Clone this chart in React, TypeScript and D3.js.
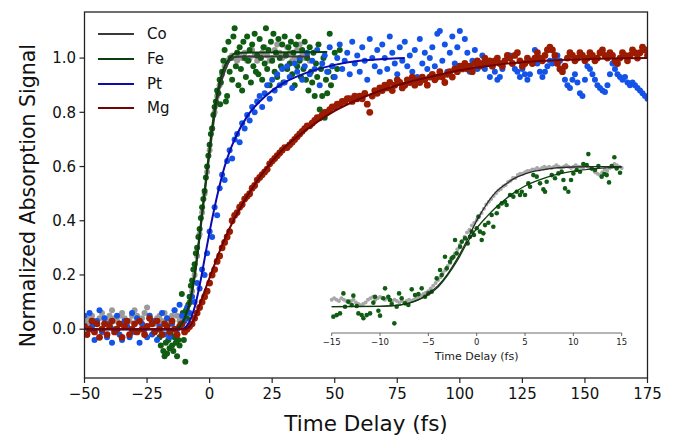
import React from "react";
import * as d3 from "d3";

// ---------------- Data ----------------
const SERIES_NAMES = ["Co", "Fe", "Pt", "Mg"];
const X_TICKS = [-50, -25, 0, 25, 50, 75, 100, 125, 150, 175];
const Y_TICKS = [0, 0.2, 0.4, 0.6, 0.8, 1.0];
const INSET_TICKS = [-15, -10, -5, 0, 5, 10, 15];

// Co (main) sampled every 1 fs starting at -50
const CO_T0 = -50;
const CO_VALUES = [
  0.03, 0.02, 0.04, 0.05, 0.03, 0.02, 0.04, 0.06, 0.04, 0.03,
  0.05, 0.07, 0.04, 0.03, 0.05, 0.06, 0.04, 0.02, 0.03, 0.05,
  0.07, 0.05, 0.03, 0.04, 0.06, 0.08, 0.05, 0.03, 0.02, 0.04,
  0.05, 0.03, 0.06, 0.04, 0.02, 0.05, 0.07, 0.05, 0.03, 0.04,
  0.05, 0.07, 0.1, 0.14, 0.2, 0.27, 0.35, 0.43, 0.5, 0.58,
  0.66, 0.74, 0.8, 0.86, 0.9, 0.94, 0.97, 0.99, 1.0, 1.01,
  1.0, 0.99, 1.01, 1.0, 1.02, 0.99, 1.0, 1.03, 1.01, 0.99,
  1.0, 1.02, 1.04, 1.01, 0.99, 1.0, 1.03, 1.05, 1.02, 1.0,
  1.01, 1.04, 1.02, 0.99, 1.0, 1.03, 1.05, 1.02, 1.0, 1.01,
  0.99,
];
const CO_FIT = [
  [-50, 0], [-15, 0], [-12, 0.01], [-10, 0.04], [-8, 0.09], [-6, 0.19], [-4, 0.34],
  [-2, 0.5], [0, 0.65], [2, 0.79], [4, 0.89], [6, 0.95], [8, 0.99], [10, 1.004], [14, 1.006], [40, 1.006],
];

// Fe (main) scatter [t, value]
const FE_POINTS = [
  [-20, -0.03], [-19.5, -0.06], [-19, -0.02], [-18.5, -0.08], [-18, -0.1], [-17.5, -0.05],
  [-17, -0.09], [-16.5, -0.04], [-16, -0.07], [-15.5, -0.02], [-15, -0.06], [-14.5, -0.08],
  [-14, -0.03], [-13.5, -0.05], [-13, -0.1], [-12.5, -0.04], [-12, -0.06], [-11.5, 0.02],
  [-11.1, 0.13], [-10.7, 0.06], [-10.3, -0.04], [-9.7, -0.12], [-9.4, 0.07], [-9, 0.04],
  [-8.5, 0.09], [-8, 0.12], [-7.7, 0.1], [-7.5, 0.16], [-7, 0.18], [-6.5, 0.22], [-6, 0.24],
  [-5.5, 0.28], [-5, 0.3], [-4.5, 0.34], [-4, 0.37], [-3.5, 0.41], [-3, 0.45], [-2.5, 0.48],
  [-2, 0.51], [-1.5, 0.56], [-1, 0.6], [-0.5, 0.64], [0, 0.68], [0.5, 0.72], [1, 0.74],
  [1.5, 0.79], [2, 0.82], [2.5, 0.84], [3, 0.88], [3.5, 0.87], [4, 0.92], [4.2, 0.83],
  [4.5, 0.91], [5, 0.95], [5.5, 0.99], [6, 1.03], [6.5, 0.84], [7, 0.86], [7.5, 1.06],
  [8, 0.95], [8.5, 1.0], [9, 0.92], [9.5, 1.08], [10, 1.11], [10.5, 0.97], [11, 1.02],
  [11.5, 0.9], [12, 1.04], [12.5, 0.96], [13, 0.88], [13.5, 1.06], [14, 1.0], [14.5, 0.93],
  [15, 1.08], [15.5, 0.99], [16, 1.03], [16.5, 0.91], [17, 1.05], [17.5, 0.97], [18, 1.09],
  [18.5, 0.95], [19, 1.01], [19.5, 0.94], [20, 1.07], [20.5, 1.0], [21, 0.92], [21.5, 1.04],
  [22, 0.98], [22.5, 1.11], [23, 0.96], [23.5, 1.03], [24, 0.9], [24.5, 1.06], [25, 0.99],
  [25.5, 1.09], [26, 0.95], [26.5, 1.02], [27, 0.93], [27.5, 1.07], [28, 1.0], [28.5, 0.97],
  [29, 1.05], [29.5, 0.91], [30, 1.08], [30.5, 1.01], [31, 0.96], [31.5, 1.04], [32, 0.98],
  [32.5, 1.06], [33, 0.94], [33.5, 1.02], [34, 0.9], [34.5, 1.05], [35, 0.97], [35.5, 1.08],
  [36, 0.99], [36.5, 0.93], [37, 1.03], [37.5, 0.96], [38, 1.06], [38.5, 0.92], [39, 1.0],
  [39.5, 0.88], [40, 1.04], [40.5, 0.95], [41, 0.91], [41.5, 1.02], [42, 0.86], [42.5, 0.98],
  [43, 0.93], [43.5, 1.05], [44, 0.81], [44.5, 0.96], [45, 0.86], [45.5, 1.0], [46, 0.78],
  [46.5, 0.92], [47, 0.87], [47.5, 0.95], [48, 1.09], [48.5, 0.9], [49, 0.97], [49.5, 0.93],
  [50, 1.02], [51, 0.96], [52, 1.03],
];
const FE_FIT = [
  [-20, 0], [-14, 0], [-12, 0.01], [-10, 0.04], [-8, 0.1], [-6, 0.2], [-4, 0.35],
  [-2, 0.51], [0, 0.67], [2, 0.81], [4, 0.91], [6, 0.97], [8, 1.0], [11, 1.02], [47, 1.022],
];

// Pt (main) sampled every 1 fs starting at -50
const PT_T0 = -50;
const PT_VALUES = [
  0.05, -0.02, 0.06, 0.01, -0.04, 0.03, 0.07, -0.01, 0.04, -0.03,
  0.02, -0.05, 0.0, 0.05, -0.02, -0.04, 0.03, 0.01, -0.03, 0.06,
  -0.01, 0.04, -0.05, 0.02, 0.0, -0.03, 0.05, -0.02, 0.03, -0.04,
  0.01, 0.06, -0.02, 0.04, -0.03, 0.02, 0.07, 0.0, 0.09, 0.05,
  0.03, 0.08, 0.06, 0.12, 0.1, 0.17, 0.15, 0.22, 0.2, 0.28,
  0.36, 0.34, 0.45, 0.42, 0.52, 0.57, 0.55, 0.62, 0.66, 0.63,
  0.7, 0.72, 0.69, 0.76, 0.74, 0.79, 0.77, 0.82, 0.8, 0.84,
  0.86, 0.82, 0.87, 0.9, 0.85, 0.92, 0.88, 0.94, 0.9, 0.96,
  0.91, 0.97, 0.93, 0.89, 0.98, 0.95, 1.0, 0.92, 0.97, 1.02,
  0.94, 0.99, 0.96, 1.03, 0.9, 0.98, 1.01, 0.95, 1.04, 0.97,
  0.93, 1.0, 1.05, 0.96, 0.99, 1.02, 0.94, 1.06, 0.98, 1.01,
  0.95, 1.04, 0.99, 0.92, 1.07, 1.0, 0.97, 1.03, 0.95, 1.05,
  1.0, 0.96, 1.08, 1.02, 0.98, 0.94, 1.04, 0.99, 1.06, 0.97,
  1.01, 0.95, 1.03, 0.93, 1.07, 0.98, 1.02, 0.96, 1.0, 1.04,
  0.97, 1.09, 1.1, 0.99, 1.05, 0.95, 1.02, 1.08, 0.98, 1.04,
  1.1, 0.97, 1.07, 1.02, 0.95, 0.99, 1.03, 0.96, 0.98, 1.01,
  0.96, 0.99, 0.93, 0.97, 0.95, 0.92, 0.93, 0.96, 0.99, 1.0,
  1.01, 0.98, 0.96, 0.95, 0.93, 0.96, 0.94, 0.92, 0.94, 0.99,
  1.03, 0.98, 0.95, 0.93, 0.95, 0.97, 0.99, 0.98, 1.0, 1.01,
  0.99, 0.96, 0.92, 0.9, 0.89, 0.92, 0.94, 0.91, 0.87, 0.86,
  0.92, 0.97, 0.96, 0.94, 0.92, 0.9, 0.89, 0.88, 0.875, 0.9,
  0.94, 0.98, 0.96, 0.94, 0.93, 0.92, 0.93, 0.91, 0.9, 0.91,
  0.9, 0.89, 0.88, 0.87, 0.86, 0.85,
];
const PT_FIT = [
  [-50, 0], [-12, 0], [-10, 0.005], [-8, 0.03], [-6, 0.08], [-4, 0.16], [-2, 0.26],
  [0, 0.36], [2, 0.45], [4, 0.53], [6, 0.6], [8, 0.655], [10, 0.7], [15, 0.785],
  [20, 0.84], [25, 0.88], [30, 0.91], [40, 0.95], [50, 0.975], [60, 0.99], [70, 0.997], [78, 1.0],
];

// Mg (main) sampled every 1 fs starting at -50
const MG_T0 = -50;
const MG_VALUES = [
  0.01, -0.02, 0.0, 0.03, -0.01, 0.02, -0.03, 0.0, 0.02, -0.02,
  0.01, 0.03, -0.01, 0.0, 0.02, -0.03, 0.01, 0.03, -0.02, 0.0,
  0.02, -0.01, 0.03, 0.0, -0.02, 0.01, 0.04, 0.02, -0.01, 0.03,
  0.0, -0.02, 0.02, 0.01, -0.01, 0.03, 0.0, -0.02, 0.01, 0.02,
  -0.01, 0.0, 0.01, 0.02, 0.04, 0.06, 0.08, 0.1, 0.12, 0.14,
  0.17, 0.2, 0.22, 0.25, 0.27, 0.3, 0.32, 0.34, 0.36, 0.4,
  0.42, 0.43, 0.45, 0.46, 0.48, 0.49, 0.5, 0.52, 0.53, 0.55,
  0.56, 0.57, 0.58, 0.59, 0.61, 0.62, 0.63, 0.64, 0.65, 0.66,
  0.67, 0.67, 0.68, 0.69, 0.7, 0.71, 0.72, 0.73, 0.74, 0.75,
  0.75, 0.76, 0.77, 0.78, 0.78, 0.79, 0.8, 0.8, 0.81, 0.82,
  0.82, 0.83, 0.83, 0.84, 0.84, 0.85, 0.85, 0.84, 0.86, 0.85,
  0.86, 0.85, 0.87, 0.83, 0.8, 0.86, 0.88, 0.87, 0.89, 0.88,
  0.9, 0.89, 0.91, 0.88, 0.9, 0.92, 0.91, 0.89, 0.9, 0.92,
  0.91, 0.93, 0.9, 0.92, 0.91, 0.93, 0.92, 0.9, 0.93, 0.94,
  0.92, 0.93, 0.95, 0.93, 0.91, 0.94, 0.95, 0.93, 0.96, 0.95,
  0.97, 0.96, 0.98, 0.96, 0.97, 0.95, 0.98, 0.99, 0.97, 0.98,
  1.0, 0.98, 0.99, 0.97, 0.99, 1.0, 0.98, 0.97, 0.99, 1.01,
  1.0, 0.98, 1.01, 1.02, 0.99, 0.97, 0.98, 1.0, 0.99, 0.98,
  1.0, 1.02, 1.0, 0.99, 1.01, 1.03, 1.04, 1.03, 1.01, 0.98,
  0.96, 0.95, 0.97, 1.0, 1.02, 1.01, 0.99, 1.0, 1.02, 1.01,
  0.99, 1.0, 1.02, 1.01, 0.99, 1.0, 1.02, 1.03, 1.01, 1.0,
  1.02, 1.01, 0.99, 0.98, 1.0, 1.02, 1.01, 0.99, 1.01, 1.03,
  1.02, 1.0, 1.02, 1.04, 1.03, 1.01,
];
const MG_FIT = [
  [-50, 0], [-10, 0], [-8, 0.01], [-6, 0.04], [-4, 0.09], [-2, 0.14], [0, 0.19],
  [5, 0.31], [10, 0.41], [15, 0.49], [20, 0.56], [25, 0.62], [30, 0.67], [40, 0.745],
  [50, 0.805], [60, 0.85], [75, 0.9], [90, 0.935], [100, 0.955], [112, 0.972],
  [125, 0.985], [150, 0.996], [175, 1.0],
];

// Inset: Co sampled every 0.25 fs starting at -15
const INSET_CO_T0 = -15;
const INSET_CO_STEP = 0.25;
const INSET_CO_VALUES = [
  0.05, 0.06, 0.05, 0.04, 0.06, 0.05, 0.04, 0.03, 0.04, 0.05, 0.03, 0.02,
  0.01, 0.02, 0.03, 0.05, 0.06, 0.07, 0.05, 0.06, 0.07, 0.06, 0.05, 0.06,
  0.05, 0.04, 0.05, 0.04, 0.03, 0.04, 0.03, 0.04, 0.05, 0.04, 0.05, 0.06,
  0.07, 0.08, 0.09, 0.1, 0.11, 0.13, 0.15, 0.17, 0.19, 0.21, 0.24, 0.26,
  0.29, 0.31, 0.35, 0.38, 0.41, 0.44, 0.47, 0.5, 0.53, 0.55, 0.58, 0.6,
  0.62, 0.65, 0.67, 0.7, 0.73, 0.75, 0.77, 0.79, 0.81, 0.83, 0.84, 0.86,
  0.87, 0.89, 0.9, 0.92, 0.92, 0.94, 0.95, 0.95, 0.96, 0.97, 0.97, 0.98,
  0.98, 0.99, 0.98, 0.99, 1.0, 0.99, 1.0, 0.99, 1.0, 1.01, 1.0, 0.99,
  1.0, 1.01, 1.0, 0.99, 1.0, 1.01, 1.0, 1.0, 0.99, 1.01, 1.0, 0.99,
  0.98, 0.96, 0.95, 0.94, 0.96, 0.98, 0.97, 0.99, 1.0, 1.02, 1.01, 1.0,
  0.99,
];
const INSET_CO_FIT = [
  [-15, 0], [-10, 0.003], [-8, 0.012], [-7, 0.025], [-6, 0.05], [-5, 0.095], [-4, 0.15],
  [-3, 0.235], [-2, 0.345], [-1, 0.475], [0, 0.615], [1, 0.73], [2, 0.82], [3, 0.875],
  [4, 0.92], [5, 0.948], [6, 0.968], [7, 0.98], [8, 0.99], [10, 0.998], [12, 1.0], [15, 1.0],
];
const INSET_FE_POINTS = [
  [-14.83, -0.071], [-14.48, -0.06], [-14.14, -0.048], [-13.79, 0.095], [-13.62, 0.0],
  [-13.28, 0.036], [-12.93, 0.012], [-12.76, 0.079], [-12.41, 0.005], [-12.24, -0.048],
  [-11.9, -0.06], [-11.72, -0.083], [-11.38, -0.06], [-11.03, -0.048], [-10.69, 0.029],
  [-10.52, 0.071], [-10.17, -0.029], [-10.0, -0.064], [-9.66, 0.06], [-9.48, 0.131],
  [-9.14, 0.071], [-8.97, 0.048], [-8.79, 0.019], [-8.52, -0.119], [-8.28, 0.0],
  [-8.03, 0.095], [-7.76, 0.06], [-7.41, 0.024], [-7.07, 0.012], [-6.72, 0.124],
  [-6.38, 0.083], [-6.03, 0.09], [-5.69, 0.131], [-5.34, 0.071], [-5.0, 0.095],
  [-4.66, 0.107], [-4.14, 0.202], [-3.79, 0.262], [-3.62, 0.226], [-3.28, 0.357],
  [-3.1, 0.274], [-2.76, 0.321], [-2.59, 0.345], [-2.41, 0.357], [-2.24, 0.476],
  [-2.07, 0.381], [-1.72, 0.429], [-1.55, 0.464], [-1.21, 0.488], [-0.93, 0.452],
  [-0.69, 0.5], [-0.52, 0.536], [-0.28, 0.512], [0.0, 0.56], [0.17, 0.643],
  [0.34, 0.536], [0.52, 0.476], [0.69, 0.524], [0.86, 0.583], [1.21, 0.6],
  [1.55, 0.655], [1.72, 0.571], [2.07, 0.667], [2.24, 0.714], [2.59, 0.738],
  [2.93, 0.75], [3.1, 0.726], [3.45, 0.798], [3.79, 0.786], [4.14, 0.821],
  [4.48, 0.798], [4.66, 0.821], [5.0, 0.798], [5.34, 0.881], [5.52, 0.857],
  [5.86, 0.94], [6.21, 0.929], [6.55, 0.881], [6.9, 0.838], [7.07, 0.821],
  [7.24, 0.893], [7.76, 0.94], [8.1, 0.917], [8.45, 0.952], [8.79, 0.964],
  [8.97, 0.905], [9.14, 0.845], [9.48, 0.821], [9.76, 0.905], [10.0, 0.952],
  [10.34, 0.976], [10.69, 0.964], [11.03, 1.019], [11.38, 1.012], [11.55, 1.09],
  [11.9, 0.988], [12.24, 0.976], [12.59, 1.005], [12.93, 0.929], [13.21, 0.948],
  [13.45, 0.94], [13.69, 0.888], [13.97, 1.005], [14.24, 1.067], [14.48, 0.988],
  [14.83, 0.957],
];
const INSET_FE_FIT = [
  [-15, 0], [-10, 0.003], [-8, 0.012], [-7, 0.025], [-6, 0.05], [-5, 0.085], [-4, 0.14],
  [-3, 0.225], [-2, 0.33], [-1, 0.455], [0, 0.56], [1, 0.64], [2, 0.71], [3, 0.77],
  [4, 0.82], [5, 0.862], [6, 0.893], [7, 0.918], [8, 0.94], [9, 0.956], [10, 0.968],
  [12, 0.985], [15, 0.997],
];

// ---------------- Styles ----------------
const COLORS = {
  Co: { pt: "#9a9a9a", line: "#3a3a3a" },
  Fe: { pt: "#0f5c12", line: "#0b3e0b" },
  Pt: { pt: "#1453e8", line: "#0b0bb0" },
  Mg: { pt: "#9c1c02", line: "#6e0404" },
};
const FONT = "DejaVu Sans, Verdana, sans-serif";
const minus = (s: string) => s.replace("-", "\u2212");

const W = 689;
const H = 436;

export default function App() {
  const x = d3.scaleLinear().domain([-50, 175]).range([84.5, 647.5]);
  const y = d3.scaleLinear().domain([-0.18, 1.17]).range([378, 12]);
  const xi = d3.scaleLinear().domain([-15, 15]).range([331.7, 621.7]);
  const yi = d3.scaleLinear().domain([0, 1]).range([306.7, 166.7]);

  const toPairs = (t0: number, step: number, vals: number[]) =>
    vals.map((v, i) => [t0 + i * step, v] as [number, number]);

  const co = toPairs(CO_T0, 1, CO_VALUES);
  const pt = toPairs(PT_T0, 1, PT_VALUES);
  const mg = toPairs(MG_T0, 1, MG_VALUES);
  const insetCo = toPairs(INSET_CO_T0, INSET_CO_STEP, INSET_CO_VALUES);

  const line = d3
    .line<number[]>()
    .x((d) => x(d[0]))
    .y((d) => y(d[1]))
    .curve(d3.curveMonotoneX);
  const lineI = d3
    .line<number[]>()
    .x((d) => xi(d[0]))
    .y((d) => yi(d[1]))
    .curve(d3.curveMonotoneX);

  const dots = (data: number[][], color: string, r: number, sx = x, sy = y) =>
    data.map((d, i) => (
      <circle key={i} cx={sx(d[0])} cy={sy(d[1])} r={r} fill={color} />
    ));

  const legendRows = [34, 59, 84, 108];

  return (
    <svg
      width={W}
      height={H}
      style={{ position: "absolute", left: 0, top: 0, background: "#fff" }}
      fontFamily={FONT}
    >
      <defs>
        <clipPath id="plotclip">
          <rect x={84.5} y={12} width={563} height={366} />
        </clipPath>
      </defs>
      <rect x={0} y={0} width={W} height={H} fill="#fff" />

      <g clipPath="url(#plotclip)">
        {dots(co, COLORS.Co.pt, 3)}
        {dots(FE_POINTS, COLORS.Fe.pt, 3)}
        {dots(pt, COLORS.Pt.pt, 3)}
        {dots(mg, COLORS.Mg.pt, 3.4)}
        <path d={line(CO_FIT) || ""} fill="none" stroke={COLORS.Co.line} strokeWidth={2} />
        <path d={line(FE_FIT) || ""} fill="none" stroke={COLORS.Fe.line} strokeWidth={2} />
        <path d={line(PT_FIT) || ""} fill="none" stroke={COLORS.Pt.line} strokeWidth={2} />
        <path d={line(MG_FIT) || ""} fill="none" stroke={COLORS.Mg.line} strokeWidth={2} />
      </g>

      {/* inset */}
      <g>
        {dots(insetCo, "#a8a8a8", 2, xi, yi)}
        {dots(INSET_FE_POINTS, COLORS.Fe.pt, 2.3, xi, yi)}
        <path d={lineI(INSET_CO_FIT) || ""} fill="none" stroke="#2a2a2a" strokeWidth={1.3} />
        <path d={lineI(INSET_FE_FIT) || ""} fill="none" stroke={COLORS.Fe.line} strokeWidth={1.3} />
        <line x1={xi(-15)} x2={xi(15)} y1={333} y2={333} stroke="#444" strokeWidth={0.8} />
        {INSET_TICKS.map((t) => (
          <g key={t}>
            <line x1={xi(t)} x2={xi(t)} y1={333} y2={336} stroke="#444" strokeWidth={0.8} />
            <text x={xi(t)} y={345} fontSize={8.5} textAnchor="middle" fill="#222">
              {minus(String(t))}
            </text>
          </g>
        ))}
        <text x={xi(0)} y={360} fontSize={11} textAnchor="middle" fill="#222">
          Time Delay (fs)
        </text>
      </g>

      {/* frame */}
      <rect x={84.5} y={12} width={563} height={366} fill="none" stroke="#222" strokeWidth={1.3} />

      {/* x axis */}
      {X_TICKS.map((t) => (
        <g key={t}>
          <line x1={x(t)} x2={x(t)} y1={378} y2={383} stroke="#222" strokeWidth={1.2} />
          <text x={x(t)} y={399} fontSize={15} textAnchor="middle" fill="#111">
            {minus(String(t))}
          </text>
        </g>
      ))}
      <text x={x(62.5)} y={431} fontSize={21.5} textAnchor="middle" fill="#111">
        Time Delay (fs)
      </text>

      {/* y axis */}
      {Y_TICKS.map((v) => (
        <g key={v}>
          <line x1={79.5} x2={84.5} y1={y(v)} y2={y(v)} stroke="#222" strokeWidth={1.2} />
          <text x={76} y={y(v)} dy="0.35em" fontSize={15} textAnchor="end" fill="#111">
            {v.toFixed(1)}
          </text>
        </g>
      ))}
      <text
        transform={`translate(35,${y(0.5) + 2}) rotate(-90)`}
        fontSize={20.5}
        textAnchor="middle"
        fill="#111"
      >
        Normalized Absorption Signal
      </text>

      {/* legend */}
      {SERIES_NAMES.map((name, i) => (
        <g key={name}>
          <line
            x1={98}
            x2={134}
            y1={legendRows[i]}
            y2={legendRows[i]}
            stroke={COLORS[name as keyof typeof COLORS].line}
            strokeWidth={2}
          />
          <text x={147} y={legendRows[i]} dy="0.35em" fontSize={15} fill="#111">
            {name}
          </text>
        </g>
      ))}
    </svg>
  );
}
